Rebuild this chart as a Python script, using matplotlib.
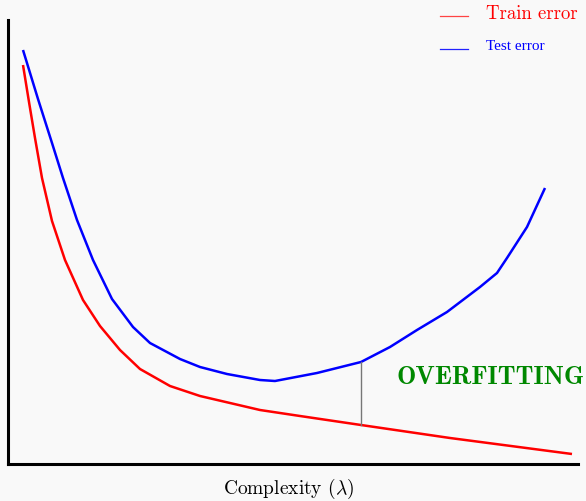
import numpy as np
import matplotlib
matplotlib.use('Agg')
import matplotlib.pyplot as plt
from matplotlib.lines import Line2D

plt.rcParams['mathtext.fontset'] = 'cm'
plt.rcParams['axes.formatter.use_mathtext'] = True

# Curves (x = complexity, y = error, arbitrary units)
train_x = [23, 29, 35, 42, 52, 65, 83, 100, 120, 140, 170, 200, 230, 260, 300, 361, 450, 572]
train_y = [399, 362, 326, 286, 243, 204, 164, 138, 114, 95, 78, 68, 61, 54, 48, 39, 26, 10]
test_x = [23, 38, 52, 63, 77, 93, 112, 133, 150, 180, 200, 227, 260, 275, 317,
          361, 390, 417, 447, 480, 497, 507, 527, 545]
test_y = [414, 365, 321, 286, 244, 204, 165, 137, 121, 105, 97, 90, 84, 83, 91,
          102, 117, 134, 152, 177, 191, 206, 237, 276]
gap_x = 361

BG = '#f9f9f9'

fig = plt.figure(figsize=(5.86, 5.01), dpi=100, facecolor=BG)
ax = fig.add_axes([8 / 586, 37 / 501, 570 / 586, 444 / 501], facecolor=BG)

ax.plot(train_x, train_y, color='#ff0000', lw=1.8, solid_capstyle='butt',
        solid_joinstyle='round')
ax.plot(test_x, test_y, color='#0000ff', lw=1.8, solid_capstyle='butt',
        solid_joinstyle='round')

# gap between the curves where overfitting starts
lo = np.interp(gap_x, train_x, train_y)
hi = np.interp(gap_x, test_x, test_y)
ax.plot([gap_x, gap_x], [lo, hi], color='#777777', lw=1.0)

ax.text(397, 86, 'OVERFITTING', color='#008800', fontsize=18.5,
        family='cmb10', va='center', ha='left')

ax.set_xlim(8, 578)
ax.set_ylim(0, 444)
ax.set_xticks([])
ax.set_yticks([])
for s in ['top', 'right']:
    ax.spines[s].set_visible(False)
for s in ['left', 'bottom']:
    ax.spines[s].set_linewidth(2.2)
    ax.spines[s].set_color('black')

fig.text(289 / 586, 1 - 489 / 501, r'Complexity ($\lambda$)', family='cmr10',
         fontsize=14, ha='center', va='center')

# legend in the top right corner
fig.add_artist(Line2D([440 / 586, 468 / 586], [1 - 16 / 501, 1 - 16 / 501],
                      color='#ff4444', lw=0.9, transform=fig.transFigure))
fig.add_artist(Line2D([440 / 586, 468 / 586], [1 - 49 / 501, 1 - 49 / 501],
                      color='#2222ff', lw=0.9, transform=fig.transFigure))
fig.text(486 / 586, 1 - 14 / 501, 'Train error', color='#ff0000', family='cmr10',
         fontsize=13.5, va='center', ha='left')
fig.text(486 / 586, 1 - 46 / 501, 'Test error', color='#0000ff', family='Liberation Serif',
         fontsize=11, va='center', ha='left')

fig.savefig('out.png', dpi=100, facecolor=BG)
